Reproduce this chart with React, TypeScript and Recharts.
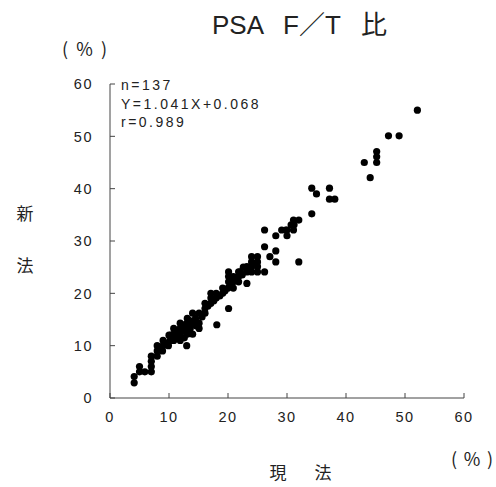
import React from "react";
import { ScatterChart, Scatter, XAxis, YAxis } from "recharts";

// 現法 (横軸) と 新法 (縦軸) による PSA F/T 比 (%)
const currentMethod = [
  4.1, 4.1, 5, 5, 5.9, 7, 7, 7, 7, 8, 8, 8, 8.9, 9, 9, 9.9, 10.2, 10.8, 10.8, 10.8,
  11.9, 11.9, 11.9, 11.9, 11.4, 13, 13.1, 13.1, 13.1, 13.1, 12.6, 14, 14, 14, 13.6,
  15.1, 15.1, 15.1, 14.5, 16.1, 16.1, 16.1, 17.1, 17.1, 17.1, 18, 18, 18.1, 19.1,
  19.1, 20, 20.1, 20.1, 20.1, 20.1, 20.9, 20.9, 20.9, 21.8, 21.8, 21.8, 22.1, 22.6,
  23.2, 23.2, 23.2, 24, 24, 24, 24, 25, 25, 25, 25, 26.2, 26.2, 26.2, 27.1, 28.1,
  28.1, 28.1, 29.1, 30, 30, 31.1, 31.2, 31.1, 32, 32, 34.2, 34.2, 35, 37.2, 37.2,
  38.1, 43.1, 44.1, 45.2, 45.2, 45.2, 47.2, 49, 52.1, 9.5, 10.3, 11.3, 12.4, 12.4,
  13.5, 14.6, 15.6, 16.6, 17.6, 18.6, 19.5, 21.4, 22.4, 23.6, 24.5, 10, 8.5, 20.5,
  29.8, 30.7,
];
const newMethod = [
  2.9, 4.1, 6, 5, 5, 5, 6, 7, 8, 8, 9, 10, 9, 10, 11, 10, 11, 11, 12.2, 13.3,
  11, 12.2, 13.3, 14.3, 11.6, 10, 12.2, 13.3, 14.3, 15.2, 11.5, 12.2, 14.3, 16.2, 13.3,
  13.3, 14.3, 16.2, 15.2, 16.2, 17.1, 18.1, 18.1, 19.1, 20, 19.1, 20, 14, 20,
  21, 21, 22.2, 23.2, 24.1, 17.1, 21, 22.2, 23.2, 22.2, 23.2, 24.1, 24.1, 25,
  21.9, 24.1, 25.1, 24.1, 25.1, 26, 27, 24.1, 25.1, 26, 27, 24.1, 28.9, 32.1, 27, 26,
  28.1, 31, 32.1, 31, 32.1, 32.1, 33.1, 34, 34, 26, 35.2, 40.1, 39, 40.1, 38,
  38, 45, 42.1, 45, 46.1, 47.1, 50.1, 50.1, 55, 10.5, 12, 12.7, 12.8, 14,
  14.8, 13.8, 15.5, 17.6, 18.6, 19.5, 20.5, 22.7, 23.5, 24.6, 25.6, 12, 9.5, 21.7,
  32.1, 33.1,
];

const xTicks = [0, 10, 20, 30, 40, 50, 60];
const yTicks = [0, 10, 20, 30, 40, 50, 60];
const statLines = ["n=137", "Y=1.041X+0.068", "r=0.989"];

const points = currentMethod.map((x, i) => ({ x, y: newMethod[i] }));

const latin = "'Liberation Sans', 'Noto Sans CJK JP', sans-serif";
const cjk = "'Noto Sans CJK JP', sans-serif";
const axisColor = "#444";
const textColor = "#222";
const tickLen = 5;
const xGap = 14;
const yGap = 17;

const Dot = (props: any) => <circle cx={props.cx} cy={props.cy} r={3.6} fill="#000" />;

// inward tick marks drawn together with the label
const XTick = (props: any) => {
  const x = Number(props.x);
  const y = Number(props.y);
  return (
    <g>
      <line x1={x} x2={x} y1={y - xGap} y2={y - xGap - tickLen} stroke={axisColor} />
      <text x={x} y={y} dy="0.71em" textAnchor="middle" fontSize={14.5} letterSpacing={1.5} fontFamily={latin} fill={textColor}>
        {props.payload.value}
      </text>
    </g>
  );
};

const YTick = (props: any) => {
  const x = Number(props.x);
  const y = Number(props.y);
  return (
    <g>
      <line x1={x + yGap} x2={x + yGap + tickLen} y1={y} y2={y} stroke={axisColor} />
      <text x={x} y={y} dy="0.36em" textAnchor="end" fontSize={14.5} letterSpacing={1.5} fontFamily={latin} fill={textColor}>
        {props.payload.value}
      </text>
    </g>
  );
};

export default function App() {
  return (
    <div style={{ position: "absolute", left: 0, top: 0, width: 496, height: 487, background: "#fff" }}>
      <ScatterChart width={496} height={487} margin={{ top: 84, right: 32, bottom: 59, left: 0 }}>
        <XAxis
          type="number"
          dataKey="x"
          domain={[0, 60]}
          ticks={xTicks}
          height={30}
          tickLine={false}
          tickSize={0}
          tickMargin={xGap}
          stroke={axisColor}
          tick={XTick}
        />
        <YAxis
          type="number"
          dataKey="y"
          domain={[0, 60]}
          ticks={yTicks}
          width={110}
          tickLine={false}
          tickSize={0}
          tickMargin={yGap}
          stroke={axisColor}
          tick={YTick}
        />
        <Scatter data={points} shape={Dot} isAnimationActive={false} />
      </ScatterChart>
      <svg width={496} height={487} style={{ position: "absolute", left: 0, top: 0, pointerEvents: "none" }}>
        <text y={34} fontSize={26} fontFamily={latin} fill={textColor}>
          <tspan x={212}>PSA</tspan>
          <tspan x={283}>F／T</tspan>
          <tspan x={361} fontFamily={cjk}>比</tspan>
        </text>
        <text x={62} y={56} fontSize={18} fontFamily={cjk} fill={textColor} textLength={45} lengthAdjust="spacing">
          (%)
        </text>
        <text x={451} y={466} fontSize={18} fontFamily={cjk} fill={textColor} textLength={42} lengthAdjust="spacing">
          (%)
        </text>
        {statLines.map((s, i) => (
          <text key={s} x={121} y={90 + i * 18.5} fontSize={14} letterSpacing={2.5} fontFamily={latin} fill={textColor}>
            {s}
          </text>
        ))}
        <text x={25} y={220} textAnchor="middle" fontSize={17} fontFamily={cjk} fill={textColor}>
          新
        </text>
        <text x={25} y={272} textAnchor="middle" fontSize={17} fontFamily={cjk} fill={textColor}>
          法
        </text>
        <text x={278} y={479} textAnchor="middle" fontSize={17} fontFamily={cjk} fill={textColor}>
          現
        </text>
        <text x={323} y={479} textAnchor="middle" fontSize={17} fontFamily={cjk} fill={textColor}>
          法
        </text>
      </svg>
    </div>
  );
}
